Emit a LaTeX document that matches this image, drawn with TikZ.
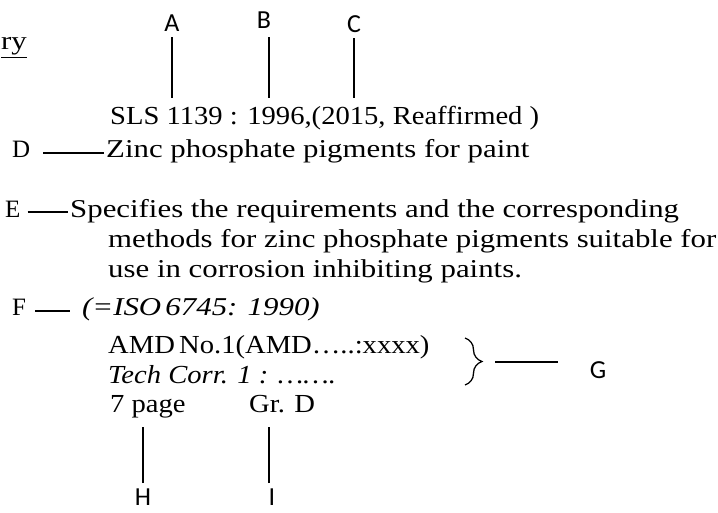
\documentclass[tikz,border=0pt]{standalone}
\usepackage{fontspec}
\setmainfont[FakeStretch=1.2]{Liberation Serif}
\newfontfamily\slsfont[FakeStretch=1.1]{Liberation Serif}
\newfontfamily\keyfont{Liberation Serif}
\newfontfamily\tagfont{Carlito}
\usetikzlibrary{decorations.pathreplacing}
\tikzset{
  body/.style={inner sep=0pt,anchor=base west,font=\fontsize{25.7}{30}\selectfont},
  ibody/.style={body,font=\fontsize{25.7}{30}\selectfont\itshape},
  nbody/.style={body,font=\slsfont\fontsize{26}{30}\selectfont},
  inbody/.style={body,font=\slsfont\fontsize{26}{30}\selectfont\itshape},
  key/.style={inner sep=0pt,anchor=base west,font=\keyfont\fontsize{25}{28}\selectfont},
  tag/.style={inner sep=0pt,anchor=base,font=\tagfont\fontsize{26}{30}\selectfont},
  lead/.style={draw=black,line width=1.3pt}
}

\begin{document}
\begin{tikzpicture}[x=1pt,y=-1pt]
  \useasboundingbox[fill=white] (0,0) rectangle (718,513);
  % callout letters
  \node[tag] (A) at (172,32) {A};
  \node[tag] (B) at (264,29) {B};
  \node[tag] (C) at (354,33) {C};
  \node[tag] (G) at (598,378) {G};
  \node[tag] (H) at (143,505) {H};
  \node[tag] (I) at (272,505) {I};
  \node[key] (D) at (12,158) {D};
  \node[key] (E) at (5,218) {E};
  \node[key] (F) at (12,316) {F};
  % catalogue entry
  \node[body] (ry) at (1,50) {\underline{ry}};
  \node[nbody] (sls) at (110,125) {SLS 1139 : 1996,(2015, Reaffirmed )};
  \node[body] (zinc) at (106,158) {Zinc phosphate pigments for paint};
  \node[body] (spec) at (70,218) {Specifies the requirements and the corresponding};
  \node[body] (meth) at (108,248) {methods for zinc phosphate pigments suitable for};
  \node[body] (use) at (108,278) {use in corrosion inhibiting paints.};
  \node[ibody] (iso) at (82,316) {(=ISO\,6745: 1990)};
  \node[nbody] (amd) at (108,353) {AMD\,No.1(AMD…..:xxxx)};
  \node[inbody] (tech) at (108,383) {Tech Corr. 1 : …….};
  \node[nbody] (page) at (110,412) {7 page};
  \node[nbody] (grd) at (249,412) {Gr. D};
  % leaders
  \draw[lead,shorten >=8pt] ([yshift=-5pt]A.south) -- (A.south |- sls.north);
  \draw[lead,shorten >=8pt] ([xshift=5pt,yshift=-8pt]B.south) -- ([xshift=5pt]B.south |- sls.north);
  \draw[lead,shorten >=8pt] ([yshift=-5pt]C.south) -- (C.south |- sls.north);
  \draw[lead] ([xshift=13pt,yshift=5pt]D.base east) -- ([xshift=-2pt,yshift=5pt]zinc.base west);
  \draw[lead] ([xshift=7pt,yshift=6pt]E.base east) -- ([xshift=-2pt,yshift=6pt]spec.base west);
  \draw[lead] ([xshift=9pt,yshift=5pt]F.base east) -- ([xshift=-12pt,yshift=5pt]iso.base west);
  \coordinate (brT) at (465,338);
  \coordinate (brB) at (465,385);
  \coordinate (brM) at (482,362);
  \draw[lead,decorate,decoration={brace,amplitude=17pt,aspect=0.5}] (brT) -- (brB);
  \draw[lead] ([xshift=13pt]brM) -- ([xshift=-32pt]G.west |- brM);
  \draw[lead] ([yshift=5pt]H.north) -- ([yshift=-15pt]H.north |- page.base);
  \draw[lead] ([xshift=-3pt,yshift=5pt]I.north) -- ([xshift=-3pt,yshift=-15pt]I.north |- grd.base);
\end{tikzpicture}
\end{document}
